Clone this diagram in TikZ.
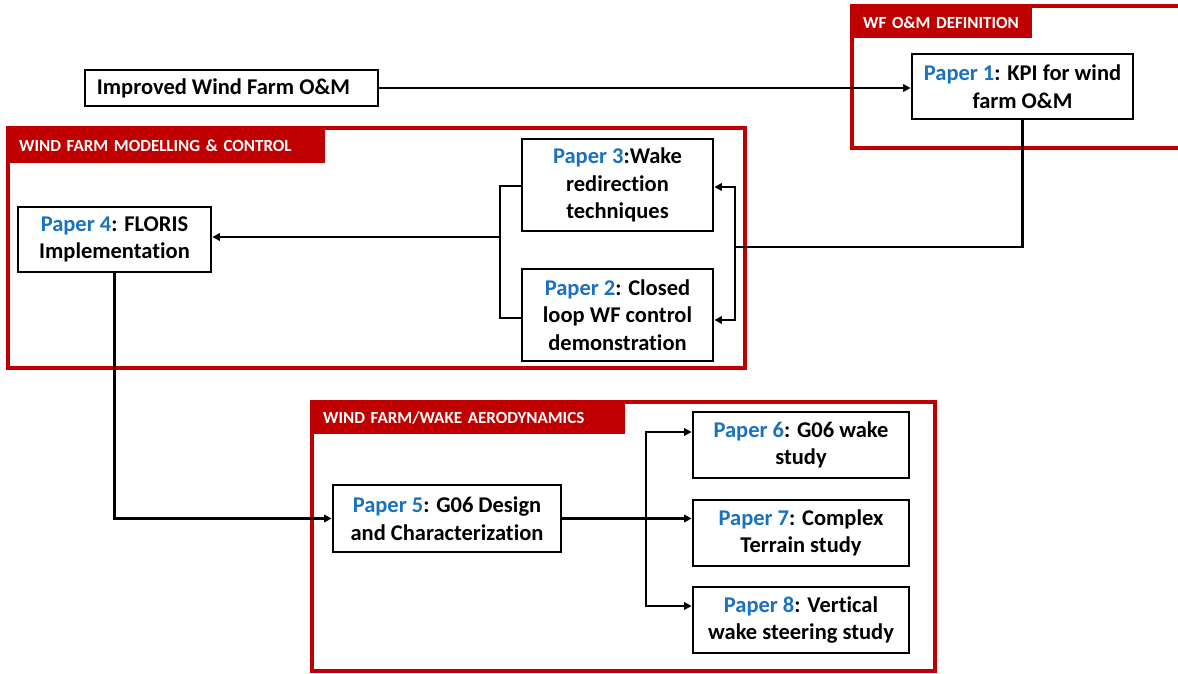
\documentclass[tikz,border=0pt]{standalone}
\usepackage{fontspec}
\setmainfont{Carlito}[Ligatures=NoCommon]
\usetikzlibrary{arrows.meta}
\definecolor{framered}{HTML}{C00000}
\definecolor{paperblue}{HTML}{1A72BF}
\newcommand{\pp}[1]{\textcolor{paperblue}{Paper #1}}

\begin{document}
\begin{tikzpicture}[x=1pt,y=-1pt,
  paperbox/.style={draw, line width=2.8pt, fill=white, align=center, inner sep=0pt,
    font=\fontsize{22.5}{27.5}\selectfont\bfseries},
  groupframe/.style={draw=framered, line width=3.2pt},
  grouplabel/.style={fill=framered, text=white, anchor=north west, align=left,
    inner ysep=0pt, inner xsep=11pt, font=\fontsize{17}{20}\selectfont\bfseries},
  link/.style={line width=2.7pt},
  arrow/.style={link, -{Triangle[length=7.5pt,width=7.5pt]}}]
\useasboundingbox (0,0) rectangle (1178,673);

% group frames
\draw[groupframe] (852,6) rectangle (1190,148);
\node[grouplabel, minimum height=32pt, text width=158pt] (lblom) at (852,6) {WF O\&M DEFINITION};
\draw[groupframe] (8,128) rectangle (745,368);
\node[grouplabel, minimum height=35pt, text width=295pt] (lblmc) at (8,128) {WIND FARM MODELLING \& CONTROL};
\draw[groupframe] (312,402) rectangle (935,671);
\node[grouplabel, minimum height=32pt, text width=291pt] (lblaero) at (312,402) {WIND FARM/WAKE AERODYNAMICS};

% boxes
\node[paperbox, minimum width=293pt, minimum height=36pt] (imp) at (231.5,88) {Improved Wind Farm O\&M\hspace*{16pt}};
\node[paperbox, minimum width=221pt, minimum height=65pt] (p1) at (1022.5,86.5) {\pp{1}: KPI for wind\\farm O\&M};
\node[paperbox, minimum width=191pt, minimum height=92pt] (p3) at (617.5,185) {\pp{3}:Wake\\redirection\\techniques};
\node[paperbox, minimum width=191pt, minimum height=92pt] (p2) at (617.5,315) {\pp{2}: Closed\\loop WF control\\demonstration};
\node[paperbox, minimum width=193pt, minimum height=65pt] (p4) at (114.5,239.5) {\pp{4}: FLORIS\\Implementation};
\node[paperbox, minimum width=228pt, minimum height=67pt] (p5) at (447,518.5) {\pp{5}: G06 Design\\and Characterization};
\node[paperbox, minimum width=216pt, minimum height=66pt] (p6) at (801,445) {\pp{6}: G06 wake\\study};
\node[paperbox, minimum width=216pt, minimum height=66pt] (p7) at (801,533) {\pp{7}: Complex\\Terrain study};
\node[paperbox, minimum width=216pt, minimum height=66pt] (p8) at (801,620) {\pp{8}: Vertical\\wake steering study};

% junction points
\coordinate (rb) at (735,247);
\coordinate (lb) at (500,237);
\coordinate (fb) at (646,518.5);

% connectors
\draw[arrow] (imp.east) -- (imp.east -| p1.west);
\draw[link] (p1.south) |- (rb);
\draw[arrow] (rb) |- ([yshift=-2pt]p3.east);
\draw[arrow] (rb) |- ([yshift=-5pt]p2.east);
\draw[link] ([yshift=-1pt]p3.west) -| (lb) |- ([yshift=-3pt]p2.west);
\draw[arrow] (lb) -- (lb -| p4.east);
\draw[arrow] (p4.south) |- (p5.west);
\draw[arrow] (p5.east) -- (p5.east -| p7.west);
\draw[arrow] (fb) |- ([yshift=13pt]p6.west);
\draw[arrow] (fb) |- ([yshift=14pt]p8.west);
\end{tikzpicture}
\end{document}
